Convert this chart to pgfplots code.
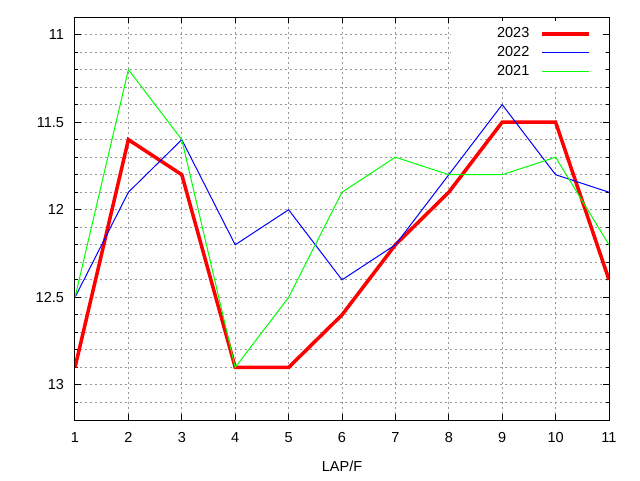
\documentclass[border=0pt]{standalone}
\usepackage{fontspec}
\setmainfont{Liberation Sans}
\usepackage{pgfplots}
\pgfplotsset{compat=1.18}
\begin{document}
\fontsize{14.5}{17}\selectfont
\begin{tikzpicture}[x=1pt,y=1pt]
\useasboundingbox (-75,-60) rectangle (565,420);
\begin{axis}[
  at={(0,0)}, anchor=south west,
  scale only axis, width=534pt, height=403pt,
  xmin=1, xmax=11, ymin=10.9, ymax=13.2, y dir=reverse,
  xtick={1,...,11},
  ytick={11,11.5,12,12.5,13},
  minor ytick={11.1,11.2,11.3,11.4,11.6,11.7,11.8,11.9,12.1,12.2,12.3,12.4,12.6,12.7,12.8,12.9,13.1},
  grid=both,
  major grid style={black!40, dash pattern=on 2pt off 3pt, line width=1pt},
  minor grid style={black!40, dash pattern=on 2pt off 3pt, line width=1pt},
  tick align=inside,
  major tick length=6pt, minor tick length=3.5pt,
  tick style={black, line width=1pt},
  axis line style={line width=1pt},
  /pgf/number format/assume math mode=true,
  tick label style={font=\fontsize{14.5}{17}\selectfont},
  xticklabel style={yshift=-7pt},
  yticklabel style={xshift=-6pt},
  label style={font=\fontsize{14.5}{17}\selectfont},
  xlabel={LAP/F},
  xlabel style={yshift=-9pt},
  legend plot pos=right,
  legend cell align=right,
  legend image code/.code={\draw[#1] (0pt,0pt)--(47pt,0pt);},
  legend style={draw=none, fill=white, inner xsep=12pt, inner ysep=3.5pt,
    at={(rel axis cs:0.9888,0.991)}, anchor=north east,
    nodes={inner sep=0pt, minimum height=19pt},
    font=\fontsize{14.5}{17}\selectfont, row sep=0pt,
    /tikz/every odd column/.append style={column sep=11pt}},
]
\addplot[red, line width=3.5pt] coordinates {
(1,12.9) (2,11.6) (3,11.8) (4,12.9) (5,12.9) (6,12.6) (7,12.2) (8,11.9) (9,11.5) (10,11.5) (11,12.4)};
\addlegendentry{\makebox[66pt][r]{2023}}
\addplot[color=blue, line width=1pt] coordinates {
(1,12.5) (2,11.9) (3,11.6) (4,12.2) (5,12.0) (6,12.4) (7,12.2) (8,11.8) (9,11.4) (10,11.8) (11,11.9)};
\addlegendentry{\makebox[66pt][r]{2022}}
\addplot[color=green, line width=1pt] coordinates {
(1,12.5) (2,11.2) (3,11.6) (4,12.9) (5,12.5) (6,11.9) (7,11.7) (8,11.8) (9,11.8) (10,11.7) (11,12.2)};
\addlegendentry{\makebox[66pt][r]{2021}}
\end{axis}
\end{tikzpicture}
\end{document}
